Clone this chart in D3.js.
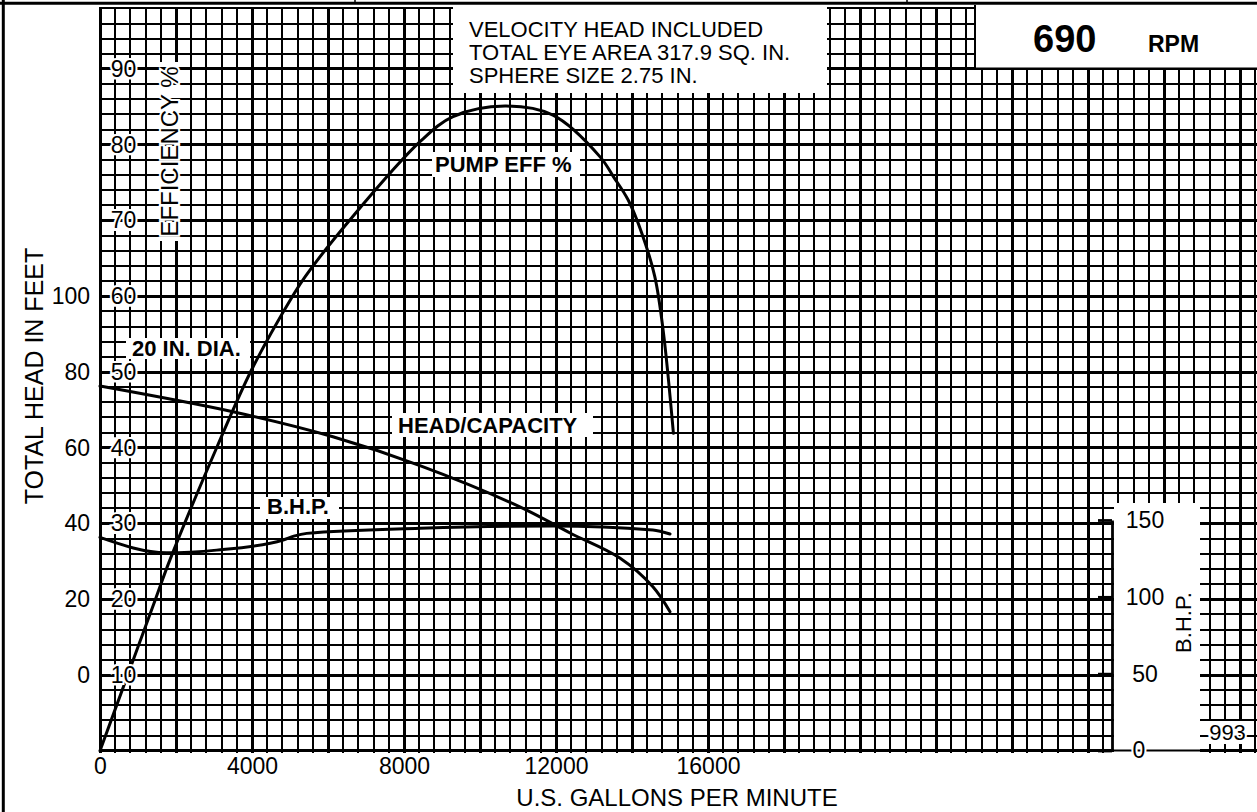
<!DOCTYPE html>
<html><head><meta charset="utf-8">
<script src="https://cdn.jsdelivr.net/npm/d3@7"></script>
<style>
html,body{margin:0;padding:0;background:#fff;}
svg{display:block;}
text{font-family:"Liberation Sans",Arial,Helvetica,sans-serif;fill:#000;}
</style></head><body>
<svg id="chart" width="1257" height="812"></svg>
<script>
// ---------- data ----------
const effGpm  = [0, 730, 1460, 1840, 3070, 3990, 5090, 5400, 6580, 8420, 9290, 10660, 11920, 13160, 13510, 13900, 14260, 14600, 14820, 15090];
const effPct  = [0, 10.0, 20.0, 25.2, 40.0, 50.3, 60.2, 62.6, 70.1, 80.4, 83.7, 85.1, 83.9, 78.4, 75.8, 72.7, 68.3, 62.6, 55.5, 41.9];
const headGpm = [0, 3500, 6130, 8420, 11050, 12370, 13680, 14550, 15000];
const headFt  = [76.3, 69.5, 62.9, 55.3, 44.4, 37.5, 30.9, 23.3, 16.7];
const bhpGpm  = [0, 1750, 3070, 4820, 5100, 5440, 8420, 11920, 14550, 15000];
const bhpHp   = [138.7, 128.7, 130.4, 137.0, 139.5, 141.3, 144.6, 146.1, 143.5, 140.9];

const xTickVals    = [0, 4000, 8000, 12000, 16000];
const headTickVals = [0, 20, 40, 60, 80, 100];
const effTickVals  = [10, 20, 30, 40, 50, 60, 70, 80, 90];
const bhpTickVals  = [0, 50, 100, 150];

const infoLines = ["VELOCITY HEAD INCLUDED", "TOTAL EYE AREA 317.9 SQ. IN.", "SPHERE SIZE 2.75 IN."];
const speedValue = "690";
const speedUnit = "RPM";
const curveLabels = ["PUMP EFF %", "20 IN. DIA.", "HEAD/CAPACITY", "B.H.P."];
const curveNumber = "993";

// ---------- layout ----------
const W = 1257, H = 812;
const svg = d3.select('#chart');
svg.append('rect').attr('width', W).attr('height', H).attr('fill', '#fff');

const x = d3.scaleLinear().domain([0, 16000]).range([100, 708]);
const yEff = d3.scaleLinear().domain([0, 98]).range([750.75, 750.75 - 98 * 7.575]);
const yHead = d3.scaleLinear().domain([0, 100]).range([675, 296.25]);
const yBhp = d3.scaleLinear().domain([0, 150]).range([750.5, 520]);

const gridGpm = d3.range(0, 30401, 400);
const gridEff = d3.range(0, 99, 2);
const snap = (v, major) => major ? Math.round(v - 0.5) + 0.5 : Math.round(v);

const gV = svg.append('g');
const gMaskA = svg.append('g');
const gH = svg.append('g');
const gMaskB = svg.append('g');
const gCurves = svg.append('g');
const gText = svg.append('g');
const gFrame = svg.append('g');

// vertical grid
gV.selectAll('line').data(gridGpm).join('line')
  .attr('x1', d => snap(x(d), d % 2000 === 0)).attr('x2', d => snap(x(d), d % 2000 === 0))
  .attr('y1', Math.round(yEff(98))).attr('y2', Math.round(yEff(0)) + 1.5)
  .attr('stroke', '#000').attr('shape-rendering', 'crispEdges')
  .attr('stroke-width', d => d % 2000 === 0 ? 3 : 2);

// masks that hide only vertical lines
function rectMask(g, x0, y0, w, h) {
  g.append('rect').attr('x', x0).attr('y', y0).attr('width', w).attr('height', h).attr('fill', '#fff');
}
effTickVals.forEach(v => rectMask(gMaskA, 103, yEff(v) - 10.5, 40, 21));
rectMask(gMaskA, 157, 62, 24, 179);
rectMask(gMaskA, 1202, 721, 51, 23);

// horizontal grid
gH.selectAll('line').data(gridEff).join('line')
  .attr('x1', 98.5).attr('x2', W)
  .attr('y1', d => snap(yEff(d), d % 10 === 0)).attr('y2', d => snap(yEff(d), d % 10 === 0))
  .attr('stroke', '#000').attr('shape-rendering', 'crispEdges')
  .attr('stroke-width', d => d % 10 === 0 ? 3 : 2);

// masks over all grid lines
rectMask(gMaskB, 453, 5, 374, 88);          // info box
rectMask(gMaskB, 975, 5, W - 975, yEff(90) - 5); // rpm box
rectMask(gMaskB, 1114, 503, 86, 250);       // bhp axis area
rectMask(gMaskB, 432, 152, 148, 25);        // PUMP EFF %
rectMask(gMaskB, 126, 338, 124, 21);        // 20 IN. DIA.
rectMask(gMaskB, 392, 413, 201, 24);        // HEAD/CAPACITY
rectMask(gMaskB, 260, 497, 79, 22);         // B.H.P.

// rpm box border
gMaskB.append('path')
  .attr('d', `M975,5V${snap(yEff(90), true)}H${W}`)
  .attr('fill', 'none').attr('stroke', '#000').attr('stroke-width', 2);

// bhp zero line through the white area
gMaskB.append('line').attr('x1', 1112).attr('x2', W)
  .attr('y1', yBhp(0)).attr('y2', yBhp(0)).attr('stroke', '#000').attr('stroke-width', 2.2);

// ---------- text labels with halo ----------
const halo = sel => sel.attr('stroke', '#fff').attr('stroke-width', 4).attr('paint-order', 'stroke');
const FONT = '"Liberation Sans",Arial,sans-serif';

// efficiency axis (inside grid)
const effAxis = d3.axisRight(yEff).tickValues(effTickVals).tickSize(0).tickPadding(23.5);
const gEffAx = gText.append('g').attr('transform', 'translate(100,0)').call(effAxis);
gEffAx.select('.domain').remove();
gEffAx.selectAll('text').attr('text-anchor', 'middle').attr('font-size', 23)
  .attr('font-family', FONT).attr('fill', '#000').call(halo);

// head axis (left)
const headAxis = d3.axisLeft(yHead).tickValues(headTickVals).tickSize(0).tickPadding(10);
const gHeadAx = gText.append('g').attr('transform', 'translate(100,0)').call(headAxis);
gHeadAx.select('.domain').remove();
gHeadAx.selectAll('text').attr('font-size', 23).attr('font-family', FONT).attr('fill', '#000');

// x axis
const xAxis = d3.axisBottom(x).tickValues(xTickVals).tickSize(0).tickPadding(6.5).tickFormat(d3.format('d'));
const gXAx = gText.append('g').attr('transform', `translate(0,${yEff(0)})`).call(xAxis);
gXAx.select('.domain').remove();
gXAx.selectAll('text').attr('font-size', 23).attr('font-family', FONT).attr('fill', '#000');

// bhp axis
const bhpAxis = d3.axisRight(yBhp).tickValues(bhpTickVals).tickSizeInner(-14).tickSizeOuter(0).tickPadding(33);
const gBhpAx = gText.append('g').attr('transform', 'translate(1112,0)').call(bhpAxis);
gBhpAx.select('.domain').attr('stroke', '#000').attr('stroke-width', 2.8);
gBhpAx.selectAll('.tick line').attr('stroke', '#000').attr('stroke-width', 2.8);
gBhpAx.selectAll('text').attr('text-anchor', 'middle').attr('x', d => d === 0 ? 27 : 33).attr('font-size', 23)
  .attr('font-family', FONT).attr('fill', '#000').call(halo);

// axis titles
gText.append('text').attr('transform', 'translate(34,376) rotate(-90)')
  .attr('text-anchor', 'middle').attr('dy', '0.36em').attr('font-size', 25).text('TOTAL HEAD IN FEET');
gText.append('text').attr('transform', 'translate(169,151.5) rotate(-90)')
  .attr('text-anchor', 'middle').attr('dy', '0.36em').attr('font-size', 24).text('EFFICIENCY %').call(halo);
gText.append('text').attr('transform', 'translate(1183,622.5) rotate(-90)')
  .attr('text-anchor', 'middle').attr('dy', '0.36em').attr('font-size', 22).text('B.H.P.');
gText.append('text').attr('x', 677).attr('y', 806).attr('text-anchor', 'middle')
  .attr('font-size', 24).text('U.S. GALLONS PER MINUTE');

// info box
gText.selectAll('text.info').data(infoLines).join('text').attr('class', 'info')
  .attr('x', 469).attr('y', (d, i) => 37.3 + i * 23).attr('font-size', 22).text(d => d);

// rpm
gText.append('text').attr('x', 1033).attr('y', 52.3).attr('font-size', 38).attr('font-weight', 'bold').text(speedValue);
gText.append('text').attr('x', 1148).attr('y', 52.3).attr('font-size', 23).attr('font-weight', 'bold').text(speedUnit);

// curve labels
const labelPos = [[435, 172.3], [132, 356], [398, 433], [267, 514.3]];
curveLabels.forEach((t, i) => {
  gText.append('text').attr('x', labelPos[i][0]).attr('y', labelPos[i][1])
    .attr('font-size', 22).attr('font-weight', 'bold').text(t);
});

// curve number
gText.append('text').attr('x', 1227.5).attr('y', 740).attr('text-anchor', 'middle')
  .attr('font-size', 22).text(curveNumber).call(halo);

// ---------- curves ----------
const mk = (gs, vs) => gs.map((g, i) => ({ g, v: vs[i] }));
const lineEff = d3.line().x(d => x(d.g)).y(d => yEff(d.v)).curve(d3.curveCatmullRom.alpha(0.5));
const lineHead = d3.line().x(d => x(d.g)).y(d => yHead(d.v)).curve(d3.curveCatmullRom.alpha(0.5));
const lineBhp = d3.line().x(d => x(d.g)).y(d => yBhp(d.v)).curve(d3.curveMonotoneX);
[[lineEff, mk(effGpm, effPct)], [lineHead, mk(headGpm, headFt)], [lineBhp, mk(bhpGpm, bhpHp)]]
  .forEach(([ln, data]) => {
    gCurves.append('path').attr('d', ln(data)).attr('fill', 'none')
      .attr('stroke', '#000').attr('stroke-width', 3).attr('stroke-linecap', 'round');
  });

// ---------- frame ----------
gFrame.append('line').attr('x1', 0).attr('x2', W).attr('y1', 3.3).attr('y2', 3.3)
  .attr('stroke', '#000').attr('stroke-width', 3);
gFrame.append('line').attr('x1', 3.3).attr('x2', 3.3).attr('y1', 0).attr('y2', H)
  .attr('stroke', '#000').attr('stroke-width', 3);
[355, 907].forEach(px => gFrame.append('line').attr('x1', px).attr('x2', px).attr('y1', 0).attr('y2', 4)
  .attr('stroke', '#000').attr('stroke-width', 1.5));
</script>
</body></html>
